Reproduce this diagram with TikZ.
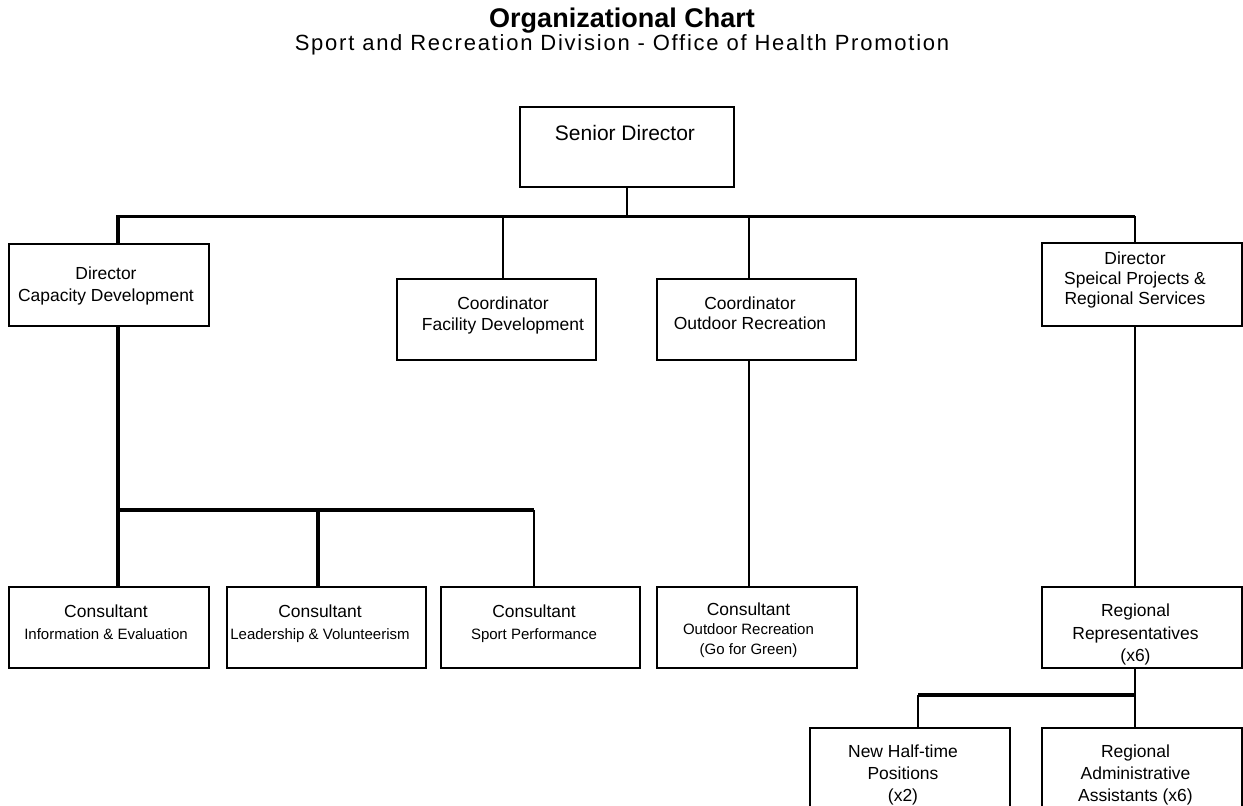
\documentclass[tikz,border=0pt]{standalone}
\usepackage{fontspec}
\setmainfont{Liberation Sans}
\newfontfamily\subtitlefont[LetterSpace=8]{Liberation Sans}
\newcommand\minorline{\fontsize{11.25pt}{16.5pt}\selectfont}
\begin{document}
\begin{tikzpicture}[x=0.75pt,y=-0.75pt,
  box/.style={draw, line width=1.1pt, rectangle, inner sep=0pt,
              minimum width=150pt, minimum height=60.75pt},
  txt/.style={align=center, inner sep=0pt, anchor=north,
              font=\fontsize{13.1pt}{#1}\selectfont},
  txt/.default=16.5pt,
  heavyline/.style={line width=2.3pt},
  lightline/.style={line width=1.1pt},
]
\useasboundingbox (0,0) rectangle (1243,806);
\clip (0,0) rectangle (1243,806);

% headings
\node[inner sep=0pt, anchor=base, font=\bfseries\fontsize{20.25pt}{24pt}\selectfont]
  (title) at (622,27.5) {Organizational Chart};
\node[inner sep=0pt, anchor=base, font=\subtitlefont\fontsize{16.5pt}{20pt}\selectfont]
  (subtitle) at (622,51) {Sport and Recreation Division - Office of Health Promotion};

% boxes
\node[box, minimum width=160.5pt, minimum height=60pt] (sd) at (627,147) {};
\node[box, minimum height=61.5pt] (cap) at (109,285) {};
\node[box, minimum width=149.25pt] (fac) at (496.5,319.5) {};
\node[box, minimum width=149.25pt] (out) at (756.5,319.5) {};
\node[box, minimum height=62.25pt] (spe) at (1142,284.5) {};
\node[box] (c1) at (109,627.5) {};
\node[box, minimum width=149.25pt] (c2) at (326.5,627.5) {};
\node[box, minimum width=149.25pt] (c3) at (540.5,627.5) {};
\node[box] (c4) at (757,627.5) {};
\node[box] (reps) at (1142,627.5) {};
\node[box] (nh) at (910,768.5) {};
\node[box] (adm) at (1142,768.5) {};

% box texts
\node[inner sep=0pt, anchor=north, font=\fontsize{15.75pt}{19pt}\selectfont]
  (tsd) at (625,125.5) {Senior Director};
\node[txt=16.7pt] (tcap) at (106,266.4) {Director\\Capacity Development};
\node[txt=15.75pt] (tfac) at (503,296.7) {Coordinator\\Facility Development};
\node[txt=15pt] (tout) at (750,296.7) {Coordinator\\Outdoor Recreation};
\node[txt=15.2pt] (tspe) at (1135,251.4) {Director\\Speical Projects \&\\Regional Services};
\node[txt] (tc1) at (106,604.7) {Consultant\\\minorline Information \& Evaluation};
\node[txt] (tc2) at (320,604.7) {Consultant\\\minorline Leadership \& Volunteerism};
\node[txt] (tc3) at (534,604.7) {Consultant\\\minorline Sport Performance};
\node[txt=14.6pt] (tc4) at (748.5,602.2) {Consultant\\\minorline Outdoor Recreation\\\minorline (Go for Green)};
\node[txt=16.9pt] (treps) at (1135.5,603.7) {Regional\\Representatives\\(x6)};
\node[txt] (tnh) at (903,744.7) {New Half-time\\Positions\\(x2)};
\node[txt] (tadm) at (1135.5,744.7) {Regional\\Administrative\\Assistants (x6)};

% junctions
\coordinate (tL) at (118,216.5);
\coordinate (tR) at (1135,216.5);
\coordinate (jf) at (503,216.5);
\coordinate (jo) at (749,216.5);
\coordinate (bL) at (118,510);
\coordinate (bM) at (318,510);
\coordinate (bE) at (534,510);
\coordinate (rR) at (1135,695);
\coordinate (rN) at (918,695);

% top level
\draw[lightline] (sd.south) -- (sd.south |- tL);
\draw[heavyline] (tL |- cap.north) -- (tL) -- (tR);
\draw[lightline] (tR) -- (tR |- spe.north);
\draw[lightline] (jf) -- (jf |- fac.north);
\draw[lightline] (jo) -- (jo |- out.north);

% capacity development branch
\draw[heavyline] (bL |- cap.south) -- (bL |- c1.north);
\draw[heavyline] (bL) -- (bE);
\draw[heavyline] (bM) -- (bM |- c2.north);
\draw[lightline] (bE) -- (bE |- c3.north);

% outdoor recreation branch
\draw[lightline] (jo |- out.south) -- (jo |- c4.north);

% special projects branch
\draw[lightline] (tR |- spe.south) -- (tR |- reps.north);
\draw[lightline] (tR |- reps.south) -- (tR |- adm.north);
\draw[heavyline] (rN) -- (rR);
\draw[lightline] (rN) -- (rN |- nh.north);
\end{tikzpicture}
\end{document}
